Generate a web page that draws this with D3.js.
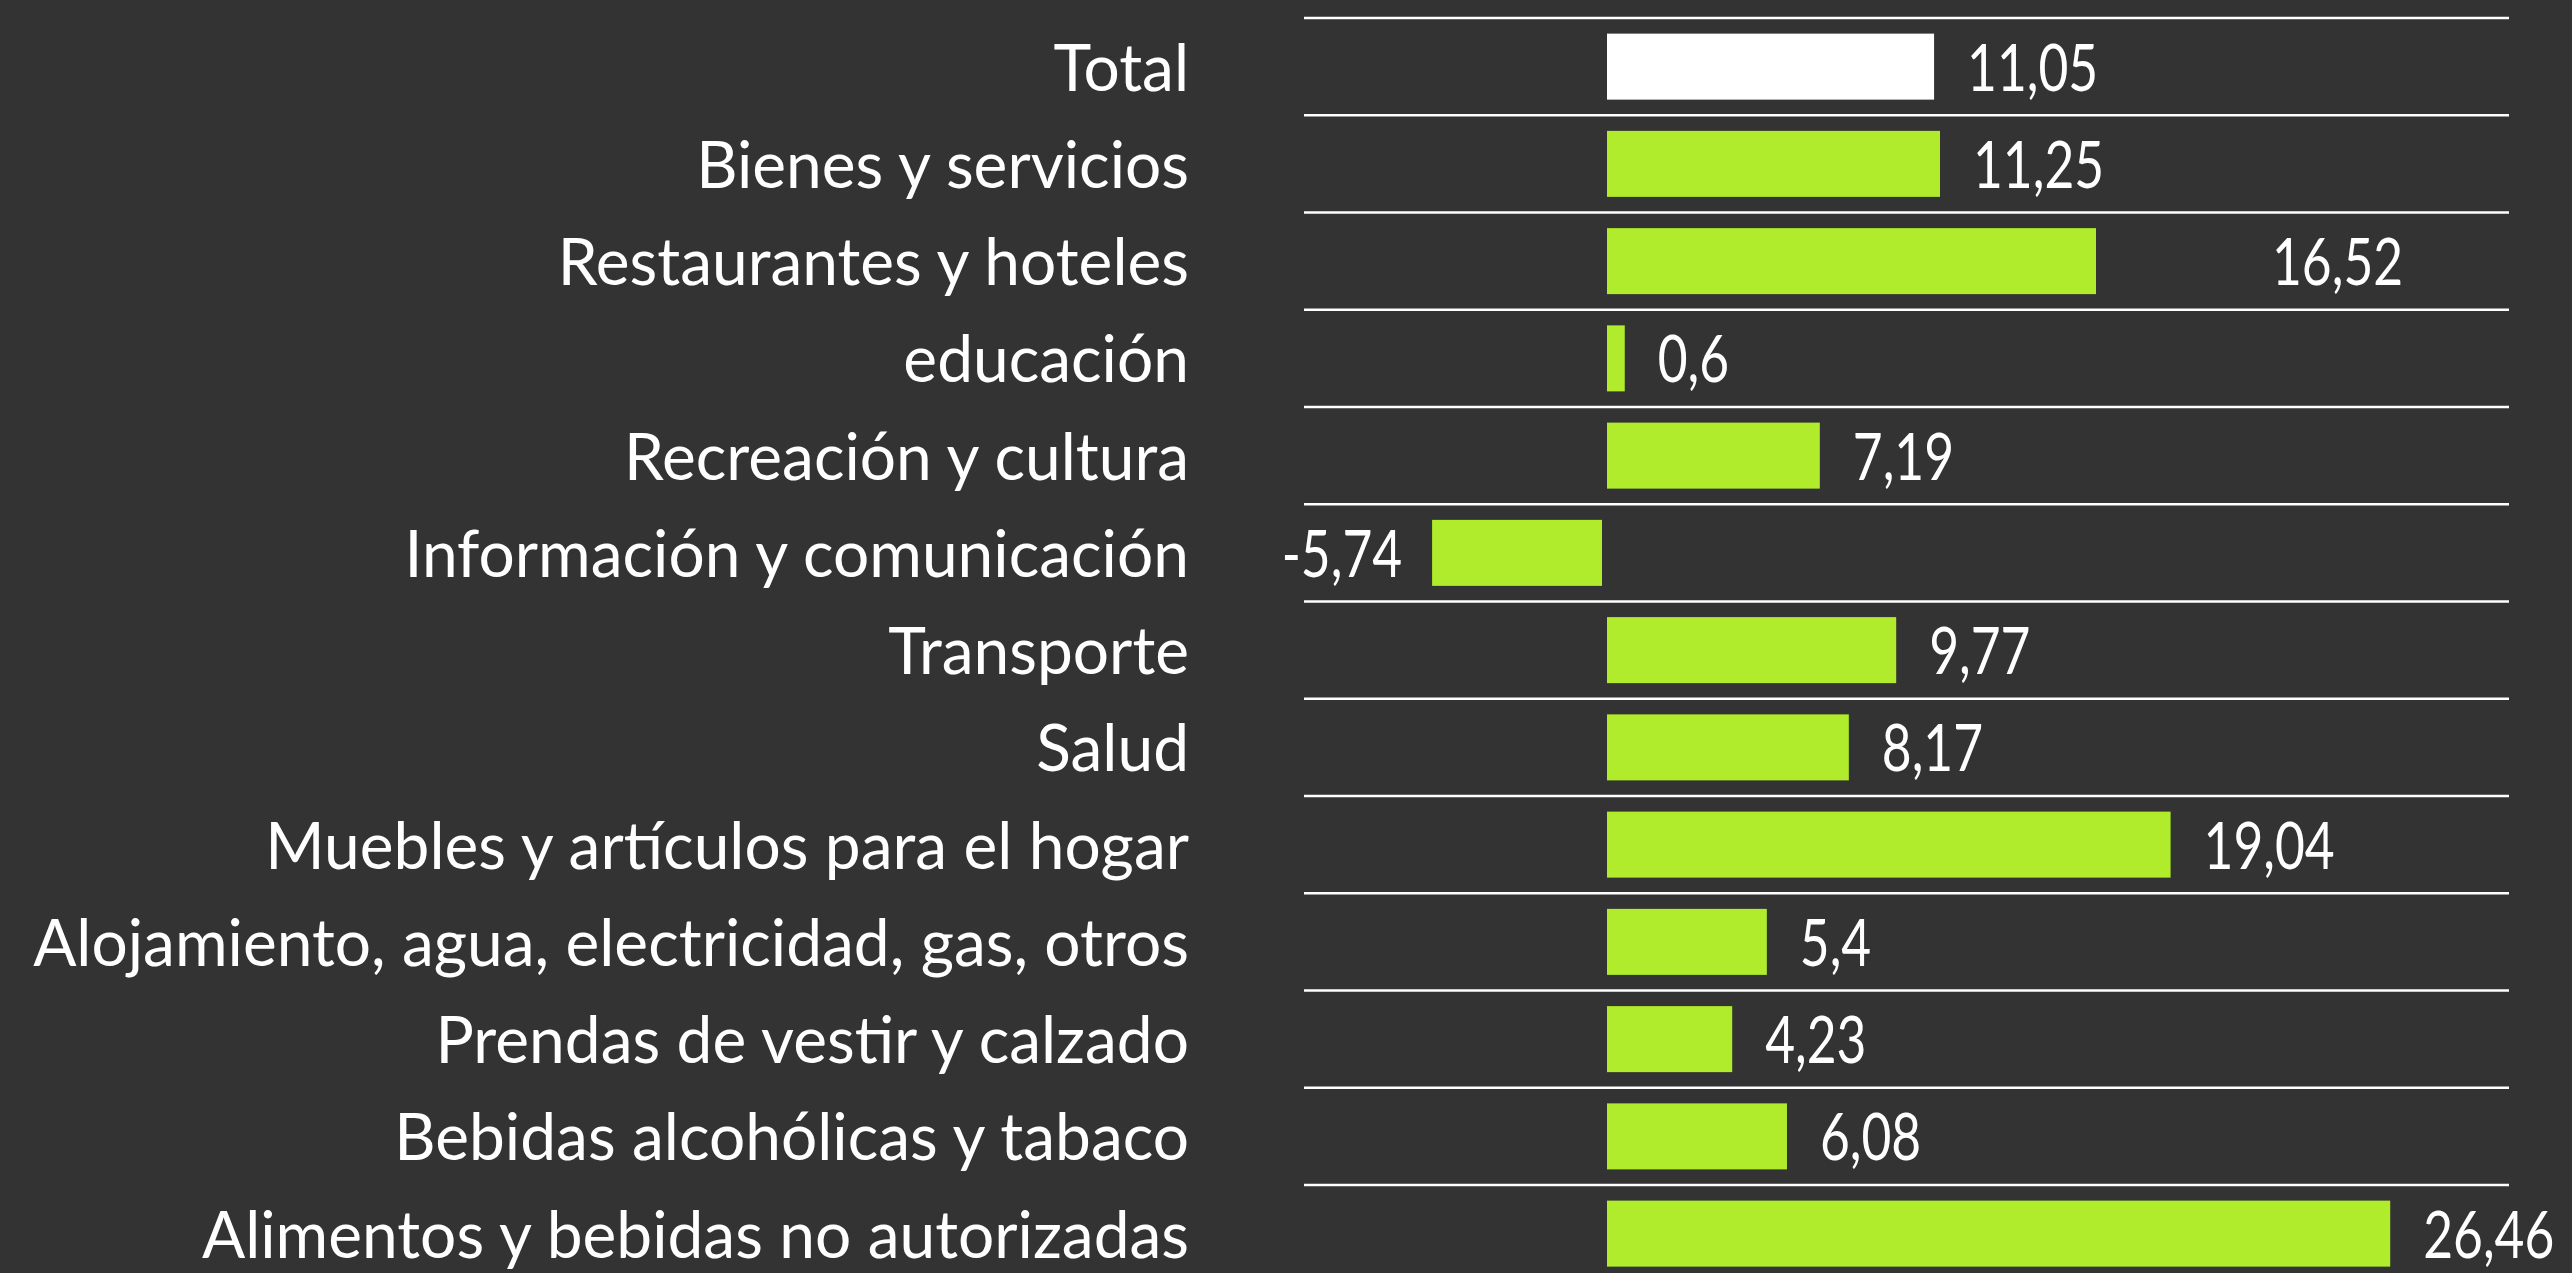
<!DOCTYPE html>
<html>
<head>
<meta charset="utf-8">
<script src="https://cdn.jsdelivr.net/npm/d3@7"></script>
<style>
  html, body { margin: 0; padding: 0; background: #333333; }
  svg { display: block; }
</style>
</head>
<body>
<svg id="main-svg"></svg>
<script>
// FIXED
CANVAS_WIDTH = 2572
CANVAS_HEIGHT = 1273
ROW_TOP = 18
ROW_STEP = 97.25
BAR_HEIGHT = 66
LINE_X0 = 1304
LINE_X1 = 2509
LABEL_RIGHT = 1189
FONT_SIZE = 66
LABEL_GAP = 34
CAT_SQUEEZE = 0.97
VALUE_SQUEEZE = 0.78

const categories = [
  "Total",
  "Bienes y servicios",
  "Restaurantes y hoteles",
  "educación",
  "Recreación y cultura",
  "Información y comunicación",
  "Transporte",
  "Salud",
  "Muebles y artículos para el hogar",
  "Alojamiento, agua, electricidad, gas, otros",
  "Prendas de vestir y calzado",
  "Bebidas alcohólicas y tabaco",
  "Alimentos y bebidas no autorizadas"
];
const values = [11.05, 11.25, 16.52, 0.6, 7.19, -5.74, 9.77, 8.17, 19.04, 5.4, 4.23, 6.08, 26.46];
const valueLabels = ["11,05", "11,25", "16,52", "0,6", "7,19", "-5,74", "9,77", "8,17", "19,04", "5,4", "4,23", "6,08", "26,46"];

// the 16,52 label sits far off its bar in the original
const labelShift = { "Restaurantes y hoteles": 143 };

const svg = d3.select("#main-svg")
  .attr("width", CANVAS_WIDTH)
  .attr("height", CANVAS_HEIGHT);

svg.append("rect")
  .attr("width", "100%")
  .attr("height", "100%")
  .attr("fill", "#333333");

const rows = d3.scaleBand()
  .domain(categories)
  .range([ROW_TOP, ROW_TOP + categories.length * ROW_STEP]);

const x = d3.scaleLinear()
  .domain([-6, 27])
  .range([1606 - 6 * 29.6, 1606 + 27 * 29.6]);

const data = categories.map((c, i) => ({ cat: c, value: values[i], label: valueLabels[i] }));
const barY = d => rows(d.cat) + (rows.bandwidth() - BAR_HEIGHT) / 2;
const midY = d => rows(d.cat) + rows.bandwidth() / 2;

// row separators
svg.append("g")
  .selectAll("line")
  .data(categories)
  .join("line")
  .attr("x1", LINE_X0)
  .attr("x2", LINE_X1)
  .attr("y1", d => rows(d))
  .attr("y2", d => rows(d))
  .attr("stroke", "#ffffff")
  .attr("stroke-width", 2.5);

// bars
svg.append("g")
  .selectAll("rect")
  .data(data)
  .join("rect")
  .attr("x", d => x(Math.min(0, d.value)) + (d.value < 0 ? -4 : 1))
  .attr("width", d => Math.abs(x(d.value) - x(0)))
  .attr("y", barY)
  .attr("height", BAR_HEIGHT)
  .attr("fill", (d, i) => i === 0 ? "#ffffff" : "#b0ec2c");

const textStyle = sel => sel
  .attr("fill", "#ffffff")
  .attr("font-family", "Lato, 'Noto Sans', sans-serif")
  .attr("font-size", FONT_SIZE);

// category labels
svg.append("g")
  .selectAll("text")
  .data(data)
  .join("text")
  .call(textStyle)
  .attr("text-anchor", "end")
  .attr("transform", d => `translate(${LABEL_RIGHT} ${midY(d) + 24}) scale(${CAT_SQUEEZE} 1)`)
  .text(d => d.cat);

// value labels
svg.append("g")
  .selectAll("text")
  .data(data)
  .join("text")
  .call(textStyle)
  .attr("text-anchor", d => d.value < 0 ? "end" : "start")
  .attr("transform", d => {
    const shift = labelShift[d.cat] || 0;
    const lx = d.value < 0 ? x(d.value) - 4 - LABEL_GAP + 4 : x(d.value) + LABEL_GAP + shift;
    return `translate(${lx} ${midY(d) + 24}) scale(${VALUE_SQUEEZE} 1)`;
  })
  .text(d => d.label);
</script>
</body>
</html>
